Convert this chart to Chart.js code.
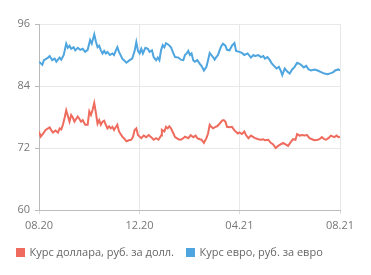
<!DOCTYPE html>
<html>
<head>
<meta charset="utf-8">
<script src="https://cdn.jsdelivr.net/npm/chart.js@4/dist/chart.umd.min.js"></script>
<style>
  html, body { margin: 0; padding: 0; background: #fff; }
  #wrap { width: 371px; height: 275px; }
</style>
</head>
<body>
<div id="wrap"><canvas id="myChart" width="371" height="275"></canvas></div>
<script>
// days since 01.08.2020 and rates
const usdDays = [0,2,5,8,11,13,15,17,20,23,25,27,29,31,33,35,37,39,41,43,45,47,49,51,53,56,59,61,63,65,67,69,71,73,75,77,79,81,83,85,87,89,91,93,95,97,101,103,106,109,112,114,116,118,120,122,
  124,127,130,133,136,139,142,145,148,149,152,154,156,158,160,163,165,169,172,175,177,181,184,187,190,192,195,197,200,203,205,207,209,211,214,216,219,222,224,226,228,231,234,237,241,243,246,
  249,251,254,257,260,262,266,269,272,274,278,281,284,287,290,293,296,299,302,305,308,311,313,316,319,322,325,328,331,334,338,340,343,346,348,351,354,358,361,363,365];
const usdRates = [75.2,74.2,74.8,75.5,75.8,76.0,75.4,75.0,75.4,75.0,75.8,75.6,76.5,77.8,79.3,78.2,77.1,78.4,77.9,77.1,77.6,78.1,77.6,77.1,77.4,76.5,76.5,79.1,78.4,79.4,80.7,78.8,76.7,77.4,76.5,77.1,77.3,76.5,75.8,76.2,75.8,76.1,75.5,76.0,76.5,75.2,74.2,73.9,73.3,73.5,73.6,74.2,75.5,75.8,74.5,74.2,
  73.9,74.4,74.1,74.5,74.1,73.6,73.9,73.6,74.4,75.5,75.2,76.1,75.8,76.2,75.8,74.8,74.1,73.7,73.6,73.9,74.2,73.9,74.5,74.1,74.4,73.9,73.7,73.6,73.0,73.9,74.8,76.5,76.1,75.8,76.1,76.2,76.7,77.3,77.4,77.1,76.1,76.0,76.1,75.4,74.8,75.0,74.7,
  75.2,74.5,73.9,74.4,74.1,73.9,73.7,73.6,73.7,73.5,73.6,73.0,72.7,72.0,72.4,72.7,73.0,72.7,72.4,73.1,73.7,73.6,74.7,74.4,74.5,74.4,74.5,73.9,73.7,73.5,73.6,73.7,74.1,73.7,73.6,73.9,74.4,74.1,74.4,74.1,74.2];

const eurDays = [0,4,6,11,13,16,19,21,25,27,30,33,35,37,39,42,44,47,50,53,56,59,62,64,67,69,71,73,75,77,79,81,83,86,89,91,93,95,97,101,103,106,110,113,116,118,120,122,
  124,126,129,132,134,137,139,142,144,146,148,150,152,154,157,160,163,165,169,172,175,177,179,181,183,185,187,189,192,195,197,200,203,205,207,209,211,213,215,217,219,221,223,226,228,231,234,237,239,243,246,
  249,253,257,260,262,266,269,272,274,277,280,282,285,288,291,293,295,298,301,304,307,310,313,316,319,321,324,327,330,334,338,342,346,350,354,357,359,363,365];
const eurRates = [88.7,88.1,89.0,89.5,89.8,89.0,89.3,88.7,89.5,89.1,90.0,92.2,91.4,91.8,91.2,91.5,90.9,91.4,91.0,91.2,90.6,91.0,92.9,92.2,94.0,92.6,91.5,91.8,90.9,90.3,90.8,90.3,90.6,90.0,90.3,90.0,90.8,91.5,90.6,89.3,89.0,88.5,89.0,89.3,90.8,92.5,90.8,90.3,
  91.2,90.3,91.4,91.2,90.6,90.9,89.6,89.0,89.5,89.0,90.9,91.9,91.5,92.3,92.0,91.5,90.3,89.6,89.5,89.1,89.0,90.0,90.3,90.8,90.0,90.3,89.0,88.7,89.0,88.3,87.9,87.0,87.7,89.0,90.4,90.0,89.6,89.1,89.6,90.0,90.9,91.7,92.2,91.8,91.0,90.9,91.8,92.3,90.8,90.6,90.4,
  90.0,90.3,89.5,90.0,89.8,90.0,89.6,89.8,89.3,89.6,89.0,88.4,87.9,87.4,87.7,87.0,86.1,87.4,86.8,86.4,87.2,87.7,88.5,88.3,87.9,87.6,87.9,87.2,87.0,87.2,87.0,86.7,86.4,86.3,86.5,86.7,87.0,87.2,87.0];

const tickDays = [0, 122, 243, 365];
const tickLabels = ['08.20', '12.20', '04.21', '08.21'];
const seriesNames = ['Курс доллара, руб. за долл.', 'Курс евро, руб. за евро'];

const toPoints = (days, rates) => days.map((d, i) => ({ x: d, y: rates[i] }));

const font = { family: "'Open Sans', sans-serif", size: 11 };

new Chart(document.getElementById('myChart').getContext('2d'), {
  type: 'line',
  data: {
    datasets: [
      { label: seriesNames[0], data: toPoints(usdDays, usdRates), borderColor: '#ee6b5d', backgroundColor: '#ee6b5d', borderWidth: 2, pointRadius: 0, tension: 0 },
      { label: seriesNames[1], data: toPoints(eurDays, eurRates), borderColor: '#4ea5df', backgroundColor: '#4ea5df', borderWidth: 2, pointRadius: 0, tension: 0 }
    ]
  },
  options: {
    responsive: false,
    animation: false,
    layout: { padding: { left: 4, right: 31, top: 24, bottom: 7 } },
    plugins: {
      tooltip: { enabled: false },
      legend: {
        position: 'bottom',
        align: 'start',
        labels: { boxWidth: 7, boxHeight: 7, padding: 13, color: '#666', font: font }
      }
    },
    scales: {
      x: {
        type: 'linear',
        min: 0,
        max: 365,
        afterBuildTicks: (scale) => { scale.ticks = tickDays.map(v => ({ value: v })); },
        afterFit: (scale) => { scale.height = 24; },
        ticks: {
          color: '#777',
          font: font,
          padding: 5,
          maxRotation: 0,
          callback: (v) => tickLabels[tickDays.indexOf(v)]
        },
        grid: { color: '#e8e8e8', tickLength: 4, tickColor: '#dcdcdc' },
        border: { color: '#bbbbbb', width: 1 }
      },
      y: {
        min: 60,
        max: 96,
        afterFit: (scale) => { scale.width = 35; },
        ticks: { stepSize: 12, color: '#777', font: font, padding: 5 },
        grid: { color: '#e8e8e8', tickLength: 4, tickColor: '#bbbbbb' },
        border: { color: '#bbbbbb', width: 1 }
      }
    }
  }
});
</script>
</body>
</html>
